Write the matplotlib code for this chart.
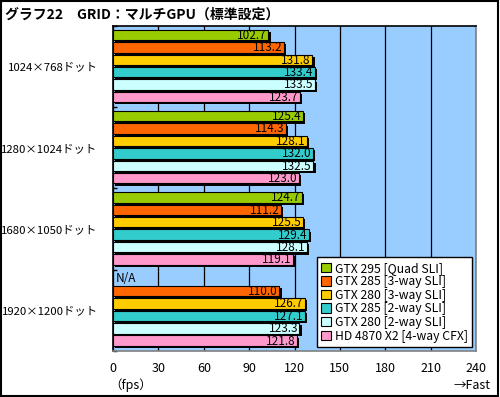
import numpy as np
import matplotlib.pyplot as plt
from matplotlib.patches import Patch, Rectangle
import matplotlib.patheffects as pe

plt.rcParams['font.family'] = ['Noto Sans CJK JP', 'DejaVu Sans']

# data
resolutions = ['1024×768ドット', '1280×1024ドット', '1680×1050ドット', '1920×1200ドット']
series = ['GTX 295 [Quad SLI]', 'GTX 285 [3-way SLI]', 'GTX 280 [3-way SLI]',
          'GTX 285 [2-way SLI]', 'GTX 280 [2-way SLI]', 'HD 4870 X2 [4-way CFX]']
colors = ['#99CC00', '#FF6600', '#FFCC00', '#33CCCC', '#CCFFFF', '#FF99CC']
gtx295_quad = [102.7, 125.4, 124.7, None]
gtx285_3way = [113.2, 114.3, 111.2, 110.0]
gtx280_3way = [131.8, 128.1, 125.5, 126.7]
gtx285_2way = [133.4, 132.0, 129.4, 127.1]
gtx280_2way = [133.5, 132.5, 128.1, 123.3]
hd4870x2_cfx = [123.7, 123.0, 119.1, 121.8]
values = [gtx295_quad, gtx285_3way, gtx280_3way, gtx285_2way, gtx280_2way, hd4870x2_cfx]
xticks = [0, 30, 60, 90, 120, 150, 180, 210, 240]

fig = plt.figure(figsize=(5.0, 3.97), dpi=100)
ax = fig.add_axes([0.226, 0.1159, 0.726, 0.8186])
ax.set_facecolor('#99CCFF')

group_h = 81.25
pitch = 12.4
bar_h = 10.5
first = 3.7

for j, (name, col, vals) in enumerate(zip(series, colors, values)):
    for i, v in enumerate(vals):
        y = i * group_h + first + j * pitch + bar_h / 2
        if v is None:
            ax.text(1.5, y, 'N/A', ha='left', va='center', fontsize=8.5)
            continue
        b = ax.barh(y, v, height=bar_h, color=col, edgecolor='black', linewidth=0.8, zorder=3)
        for p in b.patches:
            p.set_path_effects([pe.SimplePatchShadow(offset=(1.6, -1.6), shadow_rgbFace='black', alpha=1),
                                pe.Normal()])
        ax.text(v - 1.0, y + 0.4, f'{v:.1f}', ha='right', va='center', fontsize=8.5, zorder=4)

ax.set_xlim(0, 240)
ax.set_ylim(4 * group_h, 0)
ax.set_xticks(xticks)
ax.set_xticklabels([str(t) for t in xticks], fontsize=9)
ax.xaxis.grid(True, color='black', linewidth=0.9, zorder=1)
ax.set_axisbelow(True)
ax.tick_params(axis='x', length=0, pad=8)

ax.set_yticks([group_h * (i + 0.5) for i in range(4)])
ax.set_yticklabels(resolutions, fontsize=8.2)
ax.set_yticks([group_h * i for i in range(5)], minor=True)
ax.tick_params(axis='y', which='major', length=0, pad=11)
ax.tick_params(axis='y', which='minor', direction='in', length=3, width=1)

for s in ['left', 'top']:
    ax.spines[s].set_color('black')
    ax.spines[s].set_linewidth(1.2)
for s in ['right', 'bottom']:
    ax.spines[s].set_color('#808080')
    ax.spines[s].set_linewidth(1.2)

handles = [Patch(facecolor=c, edgecolor='black', linewidth=0.8, label=n) for n, c in zip(series, colors)]
leg = ax.legend(handles=handles, loc='lower right', bbox_to_anchor=(0.997, 0.005), fontsize=8.8,
                frameon=True, fancybox=False, framealpha=1, edgecolor='black',
                handlelength=0.8, handleheight=0.8, handletextpad=0.35, labelspacing=0.05,
                borderpad=0.35, borderaxespad=0.2)
leg.get_frame().set_linewidth(1.0)

fig.text(0.01, 0.962, 'グラフ22　GRID：マルチGPU（標準設定）', fontsize=10, fontweight='bold', va='center')
fig.text(0.218, 0.03, '（fps）', fontsize=9, ha='left', va='center')
fig.text(0.982, 0.03, '→Fast', fontsize=9, ha='right', va='center')

fig.patches.append(Rectangle((0.001, 0.003), 0.995, 0.994, transform=fig.transFigure,
                             fill=False, edgecolor='black', linewidth=1.5))

fig.savefig('out.png', dpi=100)
